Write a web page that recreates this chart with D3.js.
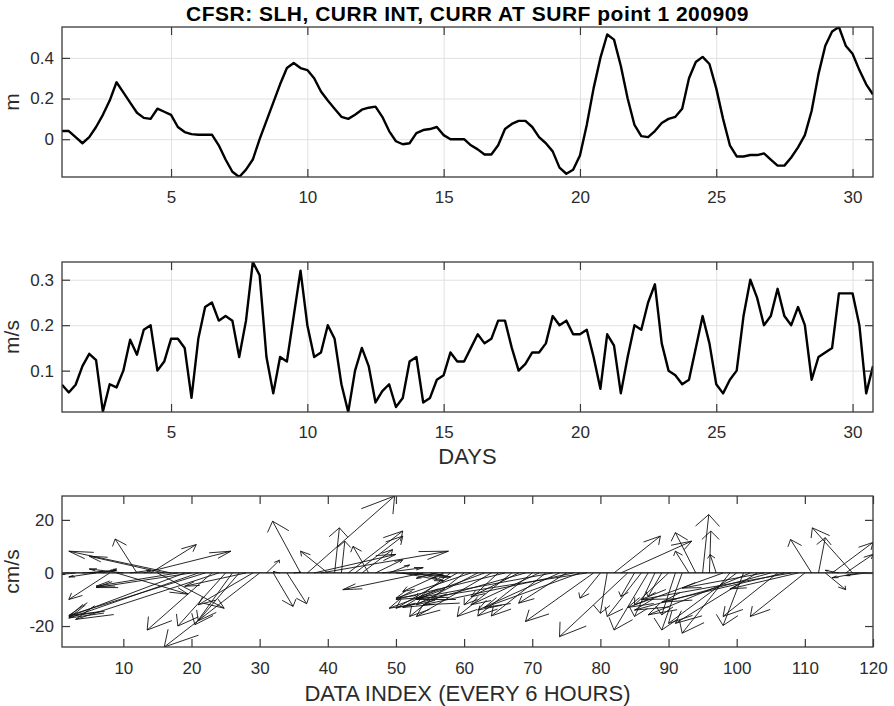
<!DOCTYPE html>
<html>
<head>
<meta charset="utf-8">
<script src="https://cdn.jsdelivr.net/npm/d3@7"></script>
<style>
body { margin: 0; background: #fff; }
svg { font-family: "Liberation Sans", Arial, sans-serif; }
</style>
</head>
<body>
<div id="chart"></div>
<script>
// sea level height (m), one value every 6 hours
var slh = [
    0.04, 0.04, 0.01, -0.02, 0.01, 0.06, 0.12, 0.19, 0.28, 0.23,
    0.18, 0.13, 0.105, 0.10, 0.15, 0.135, 0.12, 0.06, 0.035, 0.025,
    0.022, 0.022, 0.022, -0.03, -0.10, -0.16, -0.186, -0.15, -0.10, 0.0,
    0.09, 0.18, 0.27, 0.35, 0.375, 0.35, 0.34, 0.30, 0.235, 0.19,
    0.15, 0.11, 0.10, 0.12, 0.145, 0.155, 0.16, 0.11, 0.04, -0.01,
    -0.025, -0.02, 0.03, 0.045, 0.05, 0.06, 0.02, 0.0, 0.0, 0.0,
    -0.03, -0.05, -0.075, -0.075, -0.03, 0.05, 0.075, 0.09, 0.09, 0.06,
    0.01, -0.02, -0.06, -0.14, -0.17, -0.15, -0.08, 0.07, 0.25, 0.40,
    0.515, 0.49, 0.36, 0.20, 0.07, 0.015, 0.01, 0.04, 0.08, 0.10,
    0.11, 0.15, 0.30, 0.38, 0.405, 0.37, 0.25, 0.10, -0.03, -0.085,
    -0.085, -0.078, -0.078, -0.07, -0.10, -0.13, -0.13, -0.09, -0.04, 0.02,
    0.14, 0.32, 0.46, 0.53, 0.552, 0.46, 0.42, 0.34, 0.27, 0.22
];

// integrated current speed (m/s)
var curr_int = [
    0.069, 0.052, 0.069, 0.11, 0.137, 0.123, 0.01, 0.07, 0.063, 0.10,
    0.168, 0.135, 0.19, 0.2, 0.10, 0.12, 0.17, 0.17, 0.15, 0.04,
    0.17, 0.24, 0.25, 0.21, 0.22, 0.21, 0.13, 0.21, 0.339, 0.31,
    0.13, 0.05, 0.13, 0.12, 0.22, 0.32, 0.2, 0.13, 0.14, 0.2,
    0.17, 0.07, 0.009, 0.10, 0.15, 0.11, 0.03, 0.055, 0.07, 0.02,
    0.04, 0.12, 0.13, 0.03, 0.04, 0.08, 0.09, 0.14, 0.12, 0.12,
    0.15, 0.18, 0.16, 0.17, 0.21, 0.21, 0.15, 0.10, 0.115, 0.14,
    0.14, 0.16, 0.22, 0.20, 0.21, 0.18, 0.18, 0.19, 0.13, 0.06,
    0.18, 0.155, 0.05, 0.13, 0.20, 0.19, 0.25, 0.29, 0.16, 0.10,
    0.09, 0.07, 0.08, 0.15, 0.22, 0.16, 0.07, 0.05, 0.08, 0.10,
    0.22, 0.30, 0.26, 0.20, 0.22, 0.28, 0.22, 0.20, 0.24, 0.20,
    0.08, 0.13, 0.14, 0.15, 0.27, 0.27, 0.27, 0.20, 0.05, 0.11
];

// surface current components (cm/s), data index 1..120
var surf_u = [
    -1, -1.5, -2, 3, 4, -4, 2, -6, 10.5, -5,
    3, -3.2, 12.8, 6.7, 9.8, -11, -15, -12, -17, -14,
    -19, -20, -9.5, -21, -7, -5.5, -6, -9, -8, -14,
    1.9, 2.9, -1, 2.9, 1, -4.1, 12.8, 12, 18.7, -4,
    0.7, 0.5, 8, 7, 4.5, -2.3, 4, 6, 3, 8,
    6, 5, 3, -11.8, 2, -3, -6, -5, -9, -8,
    -11, -9, -14, -11, -5, -16, -8, -7, -18, -8,
    -10, -8, -20, -12, -7, -22, -14, -25, -10, -3,
    -1, 6.8, 10.4, -10, -2, -5, -5, -3, -2, -5,
    -2, -3, -2, -3, 0.9, 0.2, -0.9, -14, -7, -10,
    -3, -15, -12, -12, -20, -8, -18, -22, -10, -8,
    -3.1, 1, 3, 6, -2, 4, -5.9, -4, -3, 3
];
var surf_v = [
    -1, -0.8, -0.5, 0.5, 1, -1.5, 1.5, -10, -8, 1.5,
    1, 12.8, 8.2, 10.7, -13.3, 6.3, 8.2, -5, -16.5, -5.5,
    -17, -16, -21.5, -17.5, -20, -19.5, -18, -5, -12, -27.9,
    4.8, -12.6, 0.5, -11.6, 0.3, 19.5, 29, 7, 8.2, 8.2,
    17, 12, 15.8, 13.9, 8.8, 10, 5, 2, 3, -1.5,
    -3, -1, -2, -6.3, -1, -2, -7, -10, -13.3, -16.4,
    -9.5, -12, -13.3, -16.4, -12, -10, -16.4, -9, -13, -16.2,
    -12, -16.2, -9.5, -14, -11.4, -12, -13, -10, -18.3, -9.5,
    -15.2, 13.9, 12, -24, -8.9, -16.4, -21.5, -16.4, -8.9, -12,
    -15.8, -21.5, 8.2, 15.2, 22, 15.8, 6.9, -13, -22.7, -19,
    -19.8, -15.8, -19, -5.7, -14, -16.4, -11, -10, -6, -16.4,
    12.6, 13.3, -6.3, 11.5, 1, 7, 17, -1.8, -1, 2
];

var day_ticks = [5, 10, 15, 20, 25, 30];
var slh_ticks = [0, 0.2, 0.4];
var curr_ticks = [0.1, 0.2, 0.3];
var index_ticks = [10, 20, 30, 40, 50, 60, 70, 80, 90, 100, 110, 120];
var surf_ticks = [-20, 0, 20];

var title_text = "CFSR: SLH, CURR INT, CURR AT SURF point 1 200909";

var chart_width = 894;
var chart_height = 706;
var plot_left = 62;
var plot_right = 873;
var axis_color = "#3a3a3a";
var text_color = "#2b2b2b";

class Panel {

    constructor(svg, name, top, bottom) {
	this.svg = svg;
	this.name = name;
	this.top = top;
	this.bottom = bottom;
	this.g = svg.append("g").attr("class", name);
	svg.append("clipPath").attr("id", name + "_clip")
		.append("rect")
		.attr("x", plot_left)
		.attr("y", top)
		.attr("width", plot_right - plot_left)
		.attr("height", bottom - top);
    }

    set_scales(x_domain, y_domain) {
	this.x = d3.scaleLinear().domain(x_domain).range([plot_left, plot_right]);
	this.y = d3.scaleLinear().domain(y_domain).range([this.bottom, this.top]);
    }

    add_grid(x_ticks, y_ticks) {
	var h = this.bottom - this.top;
	var w = plot_right - plot_left;
	var grid = this.g.append("g").attr("class", "grid");
	grid.append("g")
		.attr("transform", "translate(0," + this.bottom + ")")
		.call(d3.axisBottom(this.x).tickValues(x_ticks).tickSize(-h).tickFormat(""));
	grid.append("g")
		.attr("transform", "translate(" + plot_left + ",0)")
		.call(d3.axisLeft(this.y).tickValues(y_ticks).tickSize(-w).tickFormat(""));
	grid.selectAll(".domain").remove();
	grid.selectAll("line").attr("stroke", "#e1e1e1").attr("stroke-width", 1);
    }

    add_axes(x_ticks, y_ticks, x_pad) {
	var tick = 8;
	var fmt = d => String(d);
	var axes = this.g.append("g").attr("class", "axes");
	axes.append("g")
		.attr("transform", "translate(0," + this.bottom + ")")
		.call(d3.axisBottom(this.x).tickValues(x_ticks).tickSizeInner(-tick)
			.tickSizeOuter(0).tickPadding(x_pad).tickFormat(fmt));
	axes.append("g")
		.attr("transform", "translate(0," + this.top + ")")
		.call(d3.axisTop(this.x).tickValues(x_ticks).tickSizeInner(-tick)
			.tickSizeOuter(0).tickFormat(""));
	axes.append("g")
		.attr("transform", "translate(" + plot_left + ",0)")
		.call(d3.axisLeft(this.y).tickValues(y_ticks).tickSizeInner(-tick)
			.tickSizeOuter(0).tickPadding(8).tickFormat(fmt));
	axes.append("g")
		.attr("transform", "translate(" + plot_right + ",0)")
		.call(d3.axisRight(this.y).tickValues(y_ticks).tickSizeInner(-tick)
			.tickSizeOuter(0).tickFormat(""));
	axes.selectAll(".domain").remove();
	axes.selectAll("line").attr("stroke", axis_color).attr("stroke-width", 1.2);
	axes.selectAll("text")
		.attr("fill", text_color)
		.style("font-size", "17px")
		.style("font-family", "'Liberation Sans', Arial, sans-serif");
	//the box round the plot
	this.g.append("rect")
		.attr("x", plot_left)
		.attr("y", this.top)
		.attr("width", plot_right - plot_left)
		.attr("height", this.bottom - this.top)
		.attr("fill", "none")
		.attr("stroke", axis_color)
		.attr("stroke-width", 1.3);
    }

    add_line(xs, ys) {
	var self = this;
	var pts = xs.map((d, i) => [d, ys[i]]);
	var my_line = d3.line()
		.x(d => self.x(d[0]))
		.y(d => self.y(d[1]));
	this.g.append("path")
		.datum(pts)
		.attr("clip-path", "url(#" + this.name + "_clip)")
		.attr("d", my_line)
		.attr("fill", "none")
		.attr("stroke", "#000")
		.attr("stroke-width", 2.4)
		.attr("stroke-linejoin", "round");
    }

    add_feather(u, v) {
	var self = this;
	var arrows = u.map((d, i) => ({k: i + 1, u: d, v: v[i]}));
	var layer = this.g.append("g").attr("clip-path", "url(#" + this.name + "_clip)");
	layer.append("line")
		.attr("x1", this.x(1))
		.attr("x2", this.x(arrows.length))
		.attr("y1", this.y(0))
		.attr("y2", this.y(0))
		.attr("stroke", "#000")
		.attr("stroke-width", 1.3);
	//same shape as matlab's feather: base, tip, barb, tip, barb
	layer.selectAll("path.arrow")
		.data(arrows).join("path")
		.attr("class", "arrow")
		.attr("d", function (a) {
		    var p = d3.path();
		    var tx = self.x(a.k + a.u), ty = self.y(a.v);
		    p.moveTo(self.x(a.k), self.y(0));
		    p.lineTo(tx, ty);
		    p.lineTo(self.x(a.k + 0.8 * a.u - 0.08 * a.v), self.y(0.8 * a.v + 0.08 * a.u));
		    p.moveTo(tx, ty);
		    p.lineTo(self.x(a.k + 0.8 * a.u + 0.08 * a.v), self.y(0.8 * a.v - 0.08 * a.u));
		    return p.toString();
		})
		.attr("fill", "none")
		.attr("stroke", "#111")
		.attr("stroke-width", 0.9);
    }

    add_y_label(text) {
	var mid = (this.top + this.bottom) / 2;
	this.svg.append("text")
		.attr("transform", "translate(19," + mid + ") rotate(-90)")
		.attr("text-anchor", "middle")
		.attr("fill", text_color)
		.style("font-size", "21px")
		.text(text);
    }

    add_x_label(text, y) {
	this.svg.append("text")
		.attr("x", (plot_left + plot_right) / 2)
		.attr("y", y)
		.attr("text-anchor", "middle")
		.attr("fill", text_color)
		.style("font-size", "22px")
		.text(text);
    }
}

var svg = d3.select("#chart").append("svg")
	.attr("width", chart_width)
	.attr("height", chart_height);

var days = slh.map((d, i) => 1 + i * 0.25);

// top: sea level height
var p1 = new Panel(svg, "slh", 27, 177);
p1.set_scales(d3.extent(days), d3.extent(slh));
p1.add_grid(day_ticks, slh_ticks);
p1.add_line(days, slh);
p1.add_axes(day_ticks, slh_ticks, 14);
p1.add_y_label("m");

svg.append("text")
	.attr("x", (plot_left + plot_right) / 2)
	.attr("y", 21)
	.attr("text-anchor", "middle")
	.attr("fill", "#000")
	.style("font-size", "21px")
	.style("letter-spacing", "0.5px")
	.style("font-weight", "bold")
	.text(title_text);

// middle: integrated current
var p2 = new Panel(svg, "curr_int", 262, 412);
p2.set_scales(d3.extent(days), d3.extent(curr_int));
p2.add_grid(day_ticks, curr_ticks);
p2.add_line(days, curr_int);
p2.add_axes(day_ticks, curr_ticks, 14);
p2.add_y_label("m/s");
p2.add_x_label("DAYS", 464);

// bottom: surface current feather
var tips_y = [];
surf_u.forEach(function (u, i) {
    var v = surf_v[i];
    tips_y.push(v, 0.8 * v + 0.08 * u, 0.8 * v - 0.08 * u, 0);
});
var p3 = new Panel(svg, "surf", 496, 647);
p3.set_scales([1, surf_u.length], d3.extent(tips_y));
p3.add_feather(surf_u, surf_v);
p3.add_axes(index_ticks, surf_ticks, 15);
p3.add_y_label("cm/s");
p3.add_x_label("DATA INDEX (EVERY 6 HOURS)", 701);
</script>
</body>
</html>
